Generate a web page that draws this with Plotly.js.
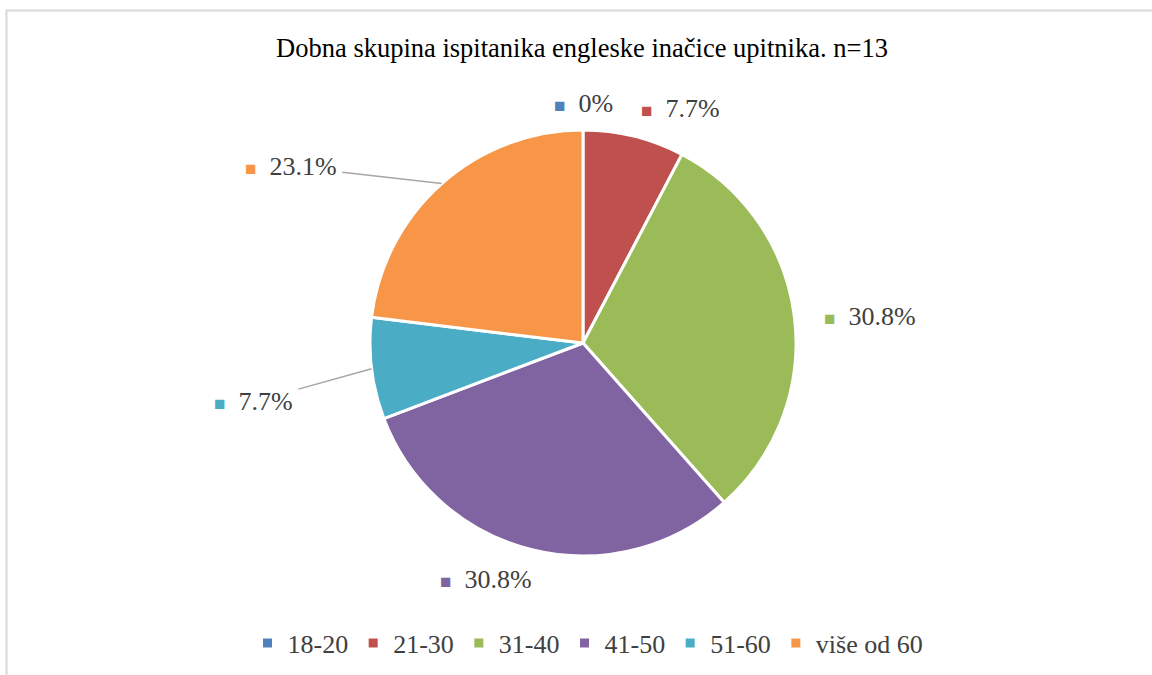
<!DOCTYPE html>
<html>
<head>
<meta charset="utf-8">
<script src="https://cdn.plot.ly/plotly-3.0.1.min.js"></script>
<style>html,body{margin:0;padding:0;background:#fff;}#chart{width:1152px;height:675px;}</style>
</head>
<body>
<div id="chart"></div>
<script>
// ---- data ----
const categories = ["18-20", "21-30", "31-40", "41-50", "51-60", "više od 60"];
const counts = [0, 1, 4, 4, 1, 3];
const titleText = "Dobna skupina ispitanika engleske inačice upitnika. n=13";

// ---- style ----
const colors = ["#4F81BD", "#C0504D", "#9BBB59", "#8064A2", "#4BACC6", "#F79646"];
const W = 1152, H = 675;
const cxPx = 583, cyPx = 343, rPx = 213;
// label placement (px offset of label centre from the slice's outer mid point)
const labelNudge = [[0, -27], [47, -28], [76, -1], [-46, 30], [-118, 33], [-151, -17]];
const leader = [false, false, false, false, true, true];

const total = counts.reduce((a, b) => a + b, 0);
const fontFam = "Liberation Serif";

const annotations = [];
let cum = 0;
counts.forEach((v, i) => {
  const mid = (cum + v / 2) / total * 2 * Math.PI; // clockwise from top
  cum += v;
  const ex = cxPx + rPx * Math.sin(mid);
  const ey = cyPx - rPx * Math.cos(mid);
  const pct = Number((v / total * 100).toFixed(1)) + "%";
  const txt = '<span style="color:' + colors[i] + ';font-size:19px">■</span>  ' + pct;
  const a = {
    xref: "paper", yref: "paper",
    x: ex / W, y: 1 - ey / H,
    text: txt,
    font: {family: fontFam, size: 26, color: "#404040"},
    xanchor: "center", yanchor: "middle"
  };
  if (leader[i]) {
    a.showarrow = true; a.arrowhead = 0; a.arrowwidth = 1.5; a.arrowcolor = "#A6A6A6";
    a.axref = "pixel"; a.ayref = "pixel";
    a.ax = labelNudge[i][0]; a.ay = labelNudge[i][1];
    a.standoff = 0; a.startstandoff = 4;
  } else {
    a.showarrow = false;
    a.xshift = labelNudge[i][0]; a.yshift = -labelNudge[i][1];
  }
  annotations.push(a);
});

const trace = {
  type: "pie",
  labels: categories,
  values: counts,
  sort: false,
  direction: "clockwise",
  rotation: 0,
  textinfo: "none",
  hoverinfo: "skip",
  marker: {colors: colors, line: {color: "#FFFFFF", width: 3}},
  domain: {x: [(cxPx - rPx) / W, (cxPx + rPx) / W], y: [1 - (cyPx + rPx) / H, 1 - (cyPx - rPx) / H]}
};

const layout = {
  width: W, height: H,
  margin: {l: 0, r: 0, t: 0, b: 0},
  paper_bgcolor: "#FFFFFF",
  font: {family: fontFam, color: "#404040", size: 26},
  title: {
    text: titleText,
    font: {family: fontFam, size: 26.5, color: "#000000"},
    x: 582 / W, xanchor: "center", xref: "paper",
    y: 1 - 48 / H, yanchor: "middle", yref: "paper"
  },
  showlegend: true,
  legend: {
    orientation: "h", x: 588 / W, xanchor: "center", y: 1 - 643 / H, yanchor: "middle",
    font: {family: fontFam, size: 26, color: "#404040"},
    traceorder: "normal", itemclick: false
  },
  annotations: annotations,
  shapes: [{
    type: "rect", xref: "paper", yref: "paper",
    x0: 6.5 / W, x1: 1.05, y0: -0.05, y1: 1 - 10.5 / H,
    line: {color: "#D9D9D9", width: 2}, fillcolor: "rgba(0,0,0,0)", layer: "below"
  }]
};

Plotly.newPlot("chart", [trace], layout, {displayModeBar: false, staticPlot: true});
</script>
</body>
</html>
